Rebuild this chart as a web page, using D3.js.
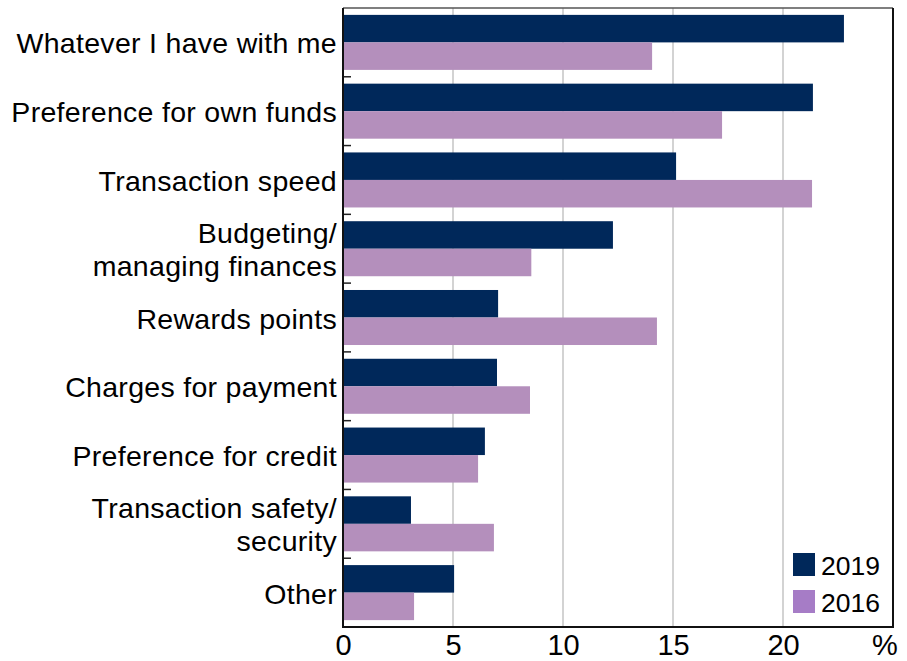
<!DOCTYPE html>
<html>
<head>
<meta charset="utf-8">
<script src="https://cdn.jsdelivr.net/npm/d3@7"></script>
<style>
  html, body { margin: 0; padding: 0; background: #fff; }
  svg { display: block; font-family: "Liberation Sans", Arial, sans-serif; }
</style>
</head>
<body>
<svg id="chart" width="907" height="661"></svg>
<script>
const categories = [
  "Whatever I have with me",
  "Preference for own funds",
  "Transaction speed",
  "Budgeting/\nmanaging finances",
  "Rewards points",
  "Charges for payment",
  "Preference for credit",
  "Transaction safety/\nsecurity",
  "Other"
];
const seriesNames = ["2019", "2016"];
const values2019 = [22.77, 21.36, 15.14, 12.27, 7.05, 7.0, 6.45, 3.09, 5.05];
const values2016 = [14.05, 17.23, 21.32, 8.56, 14.27, 8.5, 6.14, 6.86, 3.23];
const xTicks = [0, 5, 10, 15, 20];
const gridTicks = [5, 10, 15, 20];
const unitLabel = "%";

const barColors = { "2019": "#00285a", "2016": "#b48fbc" };
const legendColors = { "2019": "#00285a", "2016": "#a67cc6" };

const svg = d3.select("#chart");
const pLeft = 343, pRight = 893, pTop = 8, pBottom = 627;

const x = d3.scaleLinear().domain([0, 25]).range([pLeft, pRight]);
const y = d3.scaleBand().domain(categories).range([pTop, pBottom])
  .paddingInner(0.2).paddingOuter(0.1);
const ySub = d3.scaleBand().domain(seriesNames).range([0, y.bandwidth()]);

const data = categories.map((c, i) => ({ cat: c, "2019": values2019[i], "2016": values2016[i] }));

// gridlines
svg.append("g").selectAll("line").data(gridTicks).join("line")
  .attr("x1", d => x(d)).attr("x2", d => x(d))
  .attr("y1", pTop).attr("y2", pBottom)
  .attr("stroke", "#c4c4c4").attr("stroke-width", 1.5);

// bars
const groups = svg.append("g").selectAll("g").data(data).join("g")
  .attr("transform", d => `translate(0,${y(d.cat)})`);
groups.selectAll("rect").data(d => seriesNames.map(s => ({ s, v: d[s] }))).join("rect")
  .attr("x", x(0))
  .attr("y", d => ySub(d.s))
  .attr("width", d => x(d.v) - x(0))
  .attr("height", ySub.bandwidth())
  .attr("fill", d => barColors[d.s]);

// category boundary ticks (pointing inward)
const step = y.step();
const boundaries = d3.range(1, categories.length).map(i => y(categories[i]) - step * y.paddingInner() / 2);
svg.append("g").selectAll("line").data(boundaries).join("line")
  .attr("x1", pLeft).attr("x2", pLeft + 8)
  .attr("y1", d => d).attr("y2", d => d)
  .attr("stroke", "#222").attr("stroke-width", 1.5);

// frame
svg.append("line").attr("x1", pLeft).attr("x2", pRight).attr("y1", pTop).attr("y2", pTop)
  .attr("stroke", "#555").attr("stroke-width", 1.5);
svg.append("line").attr("x1", pRight).attr("x2", pRight).attr("y1", pTop).attr("y2", pBottom)
  .attr("stroke", "#111").attr("stroke-width", 2);
svg.append("line").attr("x1", pLeft).attr("x2", pLeft).attr("y1", pTop).attr("y2", pBottom)
  .attr("stroke", "#111").attr("stroke-width", 2);
svg.append("line").attr("x1", pLeft - 1).attr("x2", pRight + 1).attr("y1", pBottom).attr("y2", pBottom)
  .attr("stroke", "#111").attr("stroke-width", 2);

// x axis labels
const xAxis = d3.axisBottom(x).tickValues(xTicks).tickSize(0).tickPadding(0);
const gx = svg.append("g").attr("transform", `translate(0,${pBottom})`).call(xAxis);
gx.select(".domain").remove();
gx.selectAll("text").attr("dy", null).attr("y", 28)
  .attr("font-size", 29).attr("fill", "#000")
  .attr("font-family", "'Liberation Sans', Arial, sans-serif");
svg.append("text").attr("x", 885).attr("y", pBottom + 28)
  .attr("text-anchor", "middle").attr("font-size", 29).attr("fill", "#000")
  .text(unitLabel);

// category labels
const lineH = 33;
const labels = svg.append("g").selectAll("text").data(categories).join("text")
  .attr("text-anchor", "end")
  .attr("font-size", 28.5)
  .attr("letter-spacing", 0.3)
  .attr("fill", "#000");
labels.each(function (c) {
  const lines = c.split("\n");
  const cy = y(c) + y.bandwidth() / 2;
  const t = d3.select(this);
  lines.forEach((ln, k) => {
    t.append("tspan")
      .attr("x", pLeft - 6)
      .attr("y", cy + 11 + (k - (lines.length - 1) / 2) * lineH)
      .text(ln);
  });
});

// legend
const legend = svg.append("g");
seriesNames.forEach((s, i) => {
  const ly = 553 + i * 37;
  legend.append("rect").attr("x", 793).attr("y", ly).attr("width", 22).attr("height", 23)
    .attr("fill", legendColors[s]);
  legend.append("text").attr("x", 821).attr("y", ly + 22)
    .attr("font-size", 26.5).attr("fill", "#000").text(s);
});
</script>
</body>
</html>
